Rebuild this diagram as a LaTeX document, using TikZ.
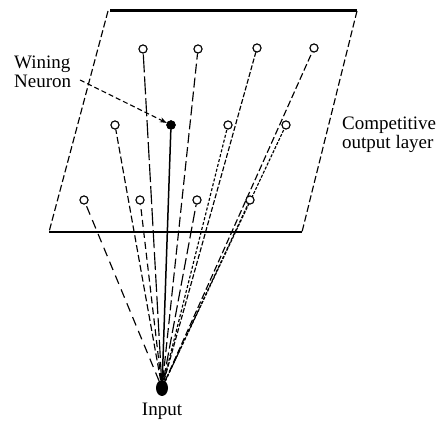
\documentclass[tikz,border=0pt]{standalone}
\usepackage{fontspec}
\setmainfont{Liberation Serif}
\usetikzlibrary{arrows.meta,shapes.geometric}
\begin{document}
\begin{tikzpicture}[x=1pt,y=-1pt,
  neuron/.style={circle,draw,fill=white,inner sep=0pt,minimum size=8pt,line width=1pt},
  winner/.style={circle,draw,fill=black,inner sep=0pt,minimum size=9pt},
  inputdot/.style={ellipse,fill=black,inner sep=0pt,minimum width=12pt,minimum height=16pt},
  lbl/.style={font=\fontsize{19}{19}\selectfont,inner sep=0pt,align=left},
  conn/.style={line width=1.15pt},
  edgedash/.style={line width=1.15pt,dash pattern=on 7pt off 3pt}]
\useasboundingbox (0,0) rectangle (440,425);
% layer (parallelogram)
\coordinate (tl) at (108,11);
\coordinate (tl2) at (110,11);
\coordinate (tr) at (357,11);
\coordinate (br) at (302,232);
\coordinate (bl) at (49,232);
\draw[line width=3pt] (tl2) -- (tr);
\draw[edgedash] (tl) -- (bl);
\draw[edgedash] (tr) -- (br);
\draw[line width=1.4pt] (bl) -- (br);
% neurons
\node[inputdot] (in) at (162,388) {};
\node[neuron] (a1) at (143,49) {};
\node[neuron] (a2) at (198,49) {};
\node[neuron] (a3) at (257,48) {};
\node[neuron] (a4) at (314,48) {};
\node[neuron] (b1) at (115,125) {};
\node[winner] (w) at (171,125) {};
\node[neuron] (b3) at (228,125) {};
\node[neuron] (b4) at (286,125) {};
\node[neuron] (c1) at (84,200) {};
\node[neuron] (c2) at (140,200) {};
\node[neuron] (c3) at (197,200) {};
\node[neuron] (c4) at (250,200) {};
% connections
\draw[conn,dash pattern=on 18pt off 4pt] (in) -- (a1);
\draw[conn,dash pattern=on 10pt off 4pt] (in) -- (a2);
\draw[conn,dash pattern=on 5pt off 2pt] (in) -- (a3);
\draw[conn,dash pattern=on 7pt off 3pt] (in) -- (a4);
\draw[conn,dash pattern=on 7pt off 3pt] (in) -- (b1);
\draw[line width=1.5pt] (in) -- (w);
\draw[conn,dash pattern=on 3pt off 2pt] (in) -- (b3);
\draw[conn,dash pattern=on 3pt off 1.5pt] (in) -- (b4);
\draw[conn,dash pattern=on 9pt off 6pt] (in) -- (c1);
\draw[conn,dash pattern=on 7pt off 4pt] (in) -- (c2);
\draw[conn,dash pattern=on 12pt off 4pt] (in) -- (c3);
\draw[conn,dash pattern=on 3pt off 2pt] (in) -- (c4);
% redraw neurons on top
\foreach \n in {a1,a2,a3,a4,b1,b3,b4,c1,c2,c3,c4}{\draw[line width=1pt,fill=white] (\n) circle (4pt);}
\fill (w) circle (4.5pt);
% labels
\node[lbl,anchor=west] (lab) at (14,72) {Wining\\Neuron};
\node[lbl,anchor=west] (comp) at (342,135) {Competitive\\output layer};
\node[lbl] (inl) at (162,411) {Input};
\coordinate (lead) at (80,80);
\draw[line width=1.1pt,dash pattern=on 5pt off 3pt,-{Stealth[length=7pt,width=5pt]}] (lead) -- (w);
\end{tikzpicture}
\end{document}
